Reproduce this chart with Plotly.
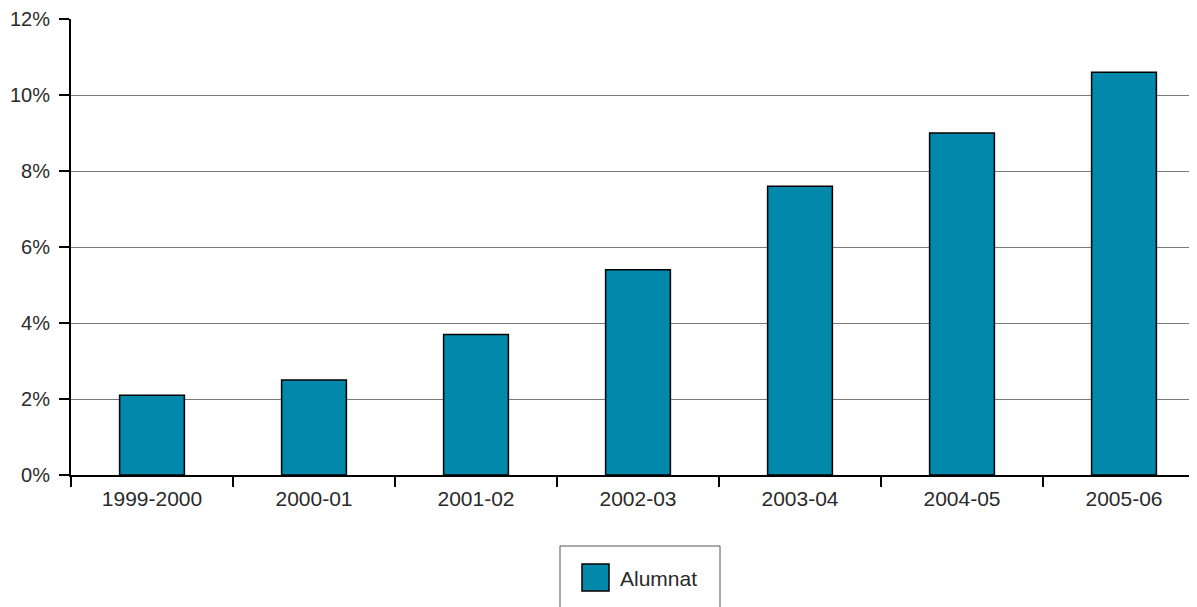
import plotly.graph_objects as go

# Data
cursos = ["1999-2000", "2000-01", "2001-02", "2002-03", "2003-04", "2004-05", "2005-06"]
alumnat = [2.1, 2.5, 3.7, 5.4, 7.6, 9.0, 10.6]
serie_nom = "Alumnat"

bar_color = "#0288AA"
font_family = "Liberation Sans, Arial, Helvetica, sans-serif"
text_color = "#2a2a2a"

# page body has an 8px margin, so the figure is offset; compensate in the margins
PW = 1134  # plot area width in px
PH = 456   # plot area height in px
X0 = 71    # plot area left on page
Y0 = 475   # plot area bottom on page


def px(x):
    return (x - X0) / PW


def py(y):
    return (Y0 - y) / PH


fig = go.Figure()
fig.add_trace(go.Bar(
    x=cursos,
    y=alumnat,
    name=serie_nom,
    width=0.4,
    marker=dict(color=bar_color, line=dict(color="black", width=1.5)),
    showlegend=False,
))

fig.update_layout(
    width=1197, height=607,
    margin=dict(l=63, r=0, t=11, b=140),
    paper_bgcolor="white",
    plot_bgcolor="white",
    font=dict(family=font_family, size=21, color=text_color),
)

fig.update_xaxes(
    type="category",
    range=[-0.5, 6.5],
    showline=True, linecolor="black", linewidth=2,
    ticks="outside", tickson="boundaries", ticklen=10, tickwidth=2, tickcolor="black",
    ticklabelstandoff=4,
    showgrid=False,
)
fig.update_yaxes(
    range=[0, 12],
    dtick=2,
    ticksuffix="%",
    showline=True, linecolor="black", linewidth=2,
    ticks="outside", ticklen=10, tickwidth=2, tickcolor="black",
    ticklabelstandoff=5,
    tickfont=dict(size=20),
    showgrid=True, gridcolor="#7a7a7a", gridwidth=1,
    zeroline=False,
)

# Legend box drawn by hand (box runs off the bottom of the page)
fig.add_shape(type="rect", xref="paper", yref="paper",
              x0=px(560), x1=px(720), y0=py(640), y1=py(546),
              line=dict(color="#555555", width=1), fillcolor="white")
fig.add_shape(type="rect", xref="paper", yref="paper",
              x0=px(582), x1=px(609), y0=py(591), y1=py(564),
              line=dict(color="black", width=1.5), fillcolor=bar_color)
fig.add_annotation(xref="paper", yref="paper",
                   x=px(618), y=py(578),
                   text=serie_nom, showarrow=False,
                   xanchor="left", yanchor="middle",
                   font=dict(size=21, color=text_color))

fig.write_html("out.html")
